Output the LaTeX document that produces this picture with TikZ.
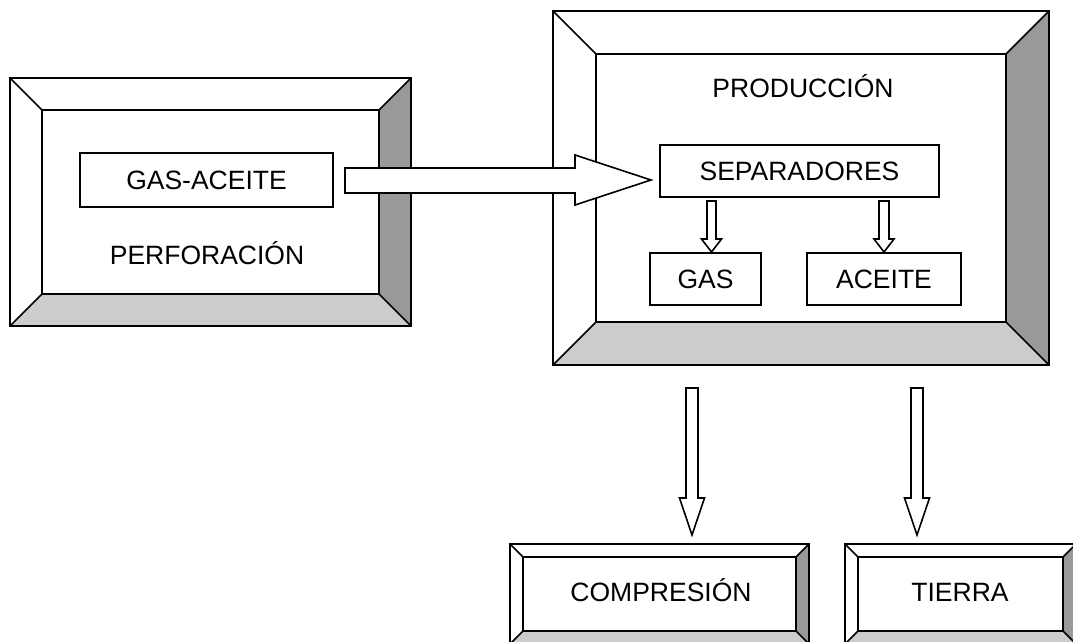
\documentclass[tikz,border=0pt]{standalone}
\usetikzlibrary{calc}
\usepackage{fontspec}
\setmainfont{Liberation Sans}
\definecolor{bevdark}{HTML}{999999}
\definecolor{bevlight}{HTML}{CCCCCC}
\tikzset{
  ln/.style={line width=1.6pt, line join=miter},
  boxnode/.style={ln, draw, fill=white, inner sep=0pt},
  lbl/.style={font=\fontsize{26.5}{31}\selectfont, inner sep=0pt, anchor=base},
  hollow/.style={ln, draw, fill=white},
}
% #1 name, #2 x1, #3 y1, #4 x2, #5 y2, #6 bevel
\newcommand\bevbox[6]{%
  \coordinate (#1-a) at (#2,#3);
  \coordinate (#1-b) at (#4,#3);
  \coordinate (#1-c) at (#4,#5);
  \coordinate (#1-d) at (#2,#5);
  \coordinate (#1-ia) at ($(#1-a)+(#6,#6)$);
  \coordinate (#1-ib) at ($(#1-b)+(-#6,#6)$);
  \coordinate (#1-ic) at ($(#1-c)+(-#6,-#6)$);
  \coordinate (#1-id) at ($(#1-d)+(#6,-#6)$);
  \fill[white] (#1-a) rectangle (#1-c);
  \fill[bevdark] (#1-b) -- (#1-c) -- (#1-ic) -- (#1-ib) -- cycle;
  \fill[bevlight] (#1-d) -- (#1-c) -- (#1-ic) -- (#1-id) -- cycle;
  \draw[ln] (#1-a) -- (#1-b) -- (#1-c) -- (#1-d) -- cycle;
  \draw[ln] (#1-ia) -- (#1-ib) -- (#1-ic) -- (#1-id) -- cycle;
  \draw[ln] (#1-a) -- (#1-ia) (#1-b) -- (#1-ib) (#1-c) -- (#1-ic) (#1-d) -- (#1-id);
}
% down block arrow: #1 center x, #2 top y, #3 head y, #4 tip y, #5 half shaft, #6 half head
\newcommand\downblock[6]{%
  \draw[hollow] ($(#1,#2)+(-#5,0)$) -- ($(#1,#2)+(#5,0)$) -- ($(#1,#3)+(#5,0)$) -- ($(#1,#3)+(#6,0)$)
    -- (#1,#4) -- ($(#1,#3)+(-#6,0)$) -- ($(#1,#3)+(-#5,0)$) -- cycle;
}
\begin{document}
\begin{tikzpicture}[x=1pt,y=-1pt]
\useasboundingbox (0,0) rectangle (1073,642);
\begin{scope}
\clip (0,0) rectangle (1073,642);
% frames
\bevbox{perf}{10}{78}{411}{326}{32}
\bevbox{prod}{553}{11}{1049}{365}{43}
\bevbox{comp}{510}{544}{809}{644}{13}
\bevbox{tier}{845}{544}{1076}{644}{13}
\end{scope}
% inner boxes
\node[boxnode, minimum width=253pt, minimum height=54pt] (gasaceite) at (206.5,180) {};
\node[lbl] at ($(gasaceite.center)+(0,9.5)$) {GAS-ACEITE};
\node[lbl] (perforacion) at (207,264.5) {PERFORACIÓN};
\node[lbl] (produccion) at (803,97.5) {PRODUCCIÓN};
\node[boxnode, minimum width=279pt, minimum height=52pt] (sep) at (799.5,171) {};
\node[lbl] at ($(sep.center)+(0,9.5)$) {SEPARADORES};
\node[boxnode, minimum width=111pt, minimum height=52pt] (gas) at (705.5,279) {};
\node[lbl] at ($(gas.center)+(0,9.5)$) {GAS};
\node[boxnode, minimum width=154pt, minimum height=52pt] (aceite) at (884,279) {};
\node[lbl] at ($(aceite.center)+(0,9.5)$) {ACEITE};
\node[lbl] (compresion) at (661,601.5) {COMPRESIÓN};
\node[lbl] (tierra) at (960,601.5) {TIERRA};
% big right arrow
\draw[hollow] (345,168) -- (575,168) -- (575,155) -- (651,180) -- (575,205) -- (575,193) -- (345,193) -- cycle;
% small down arrows
\downblock{711.5}{201}{239}{252}{4.5}{10}
\downblock{884}{201}{239}{252}{5}{10}
% big down arrows
\downblock{692}{388}{498}{535}{6}{12.5}
\downblock{917}{388}{498}{535}{6}{12.5}
\end{tikzpicture}
\end{document}
